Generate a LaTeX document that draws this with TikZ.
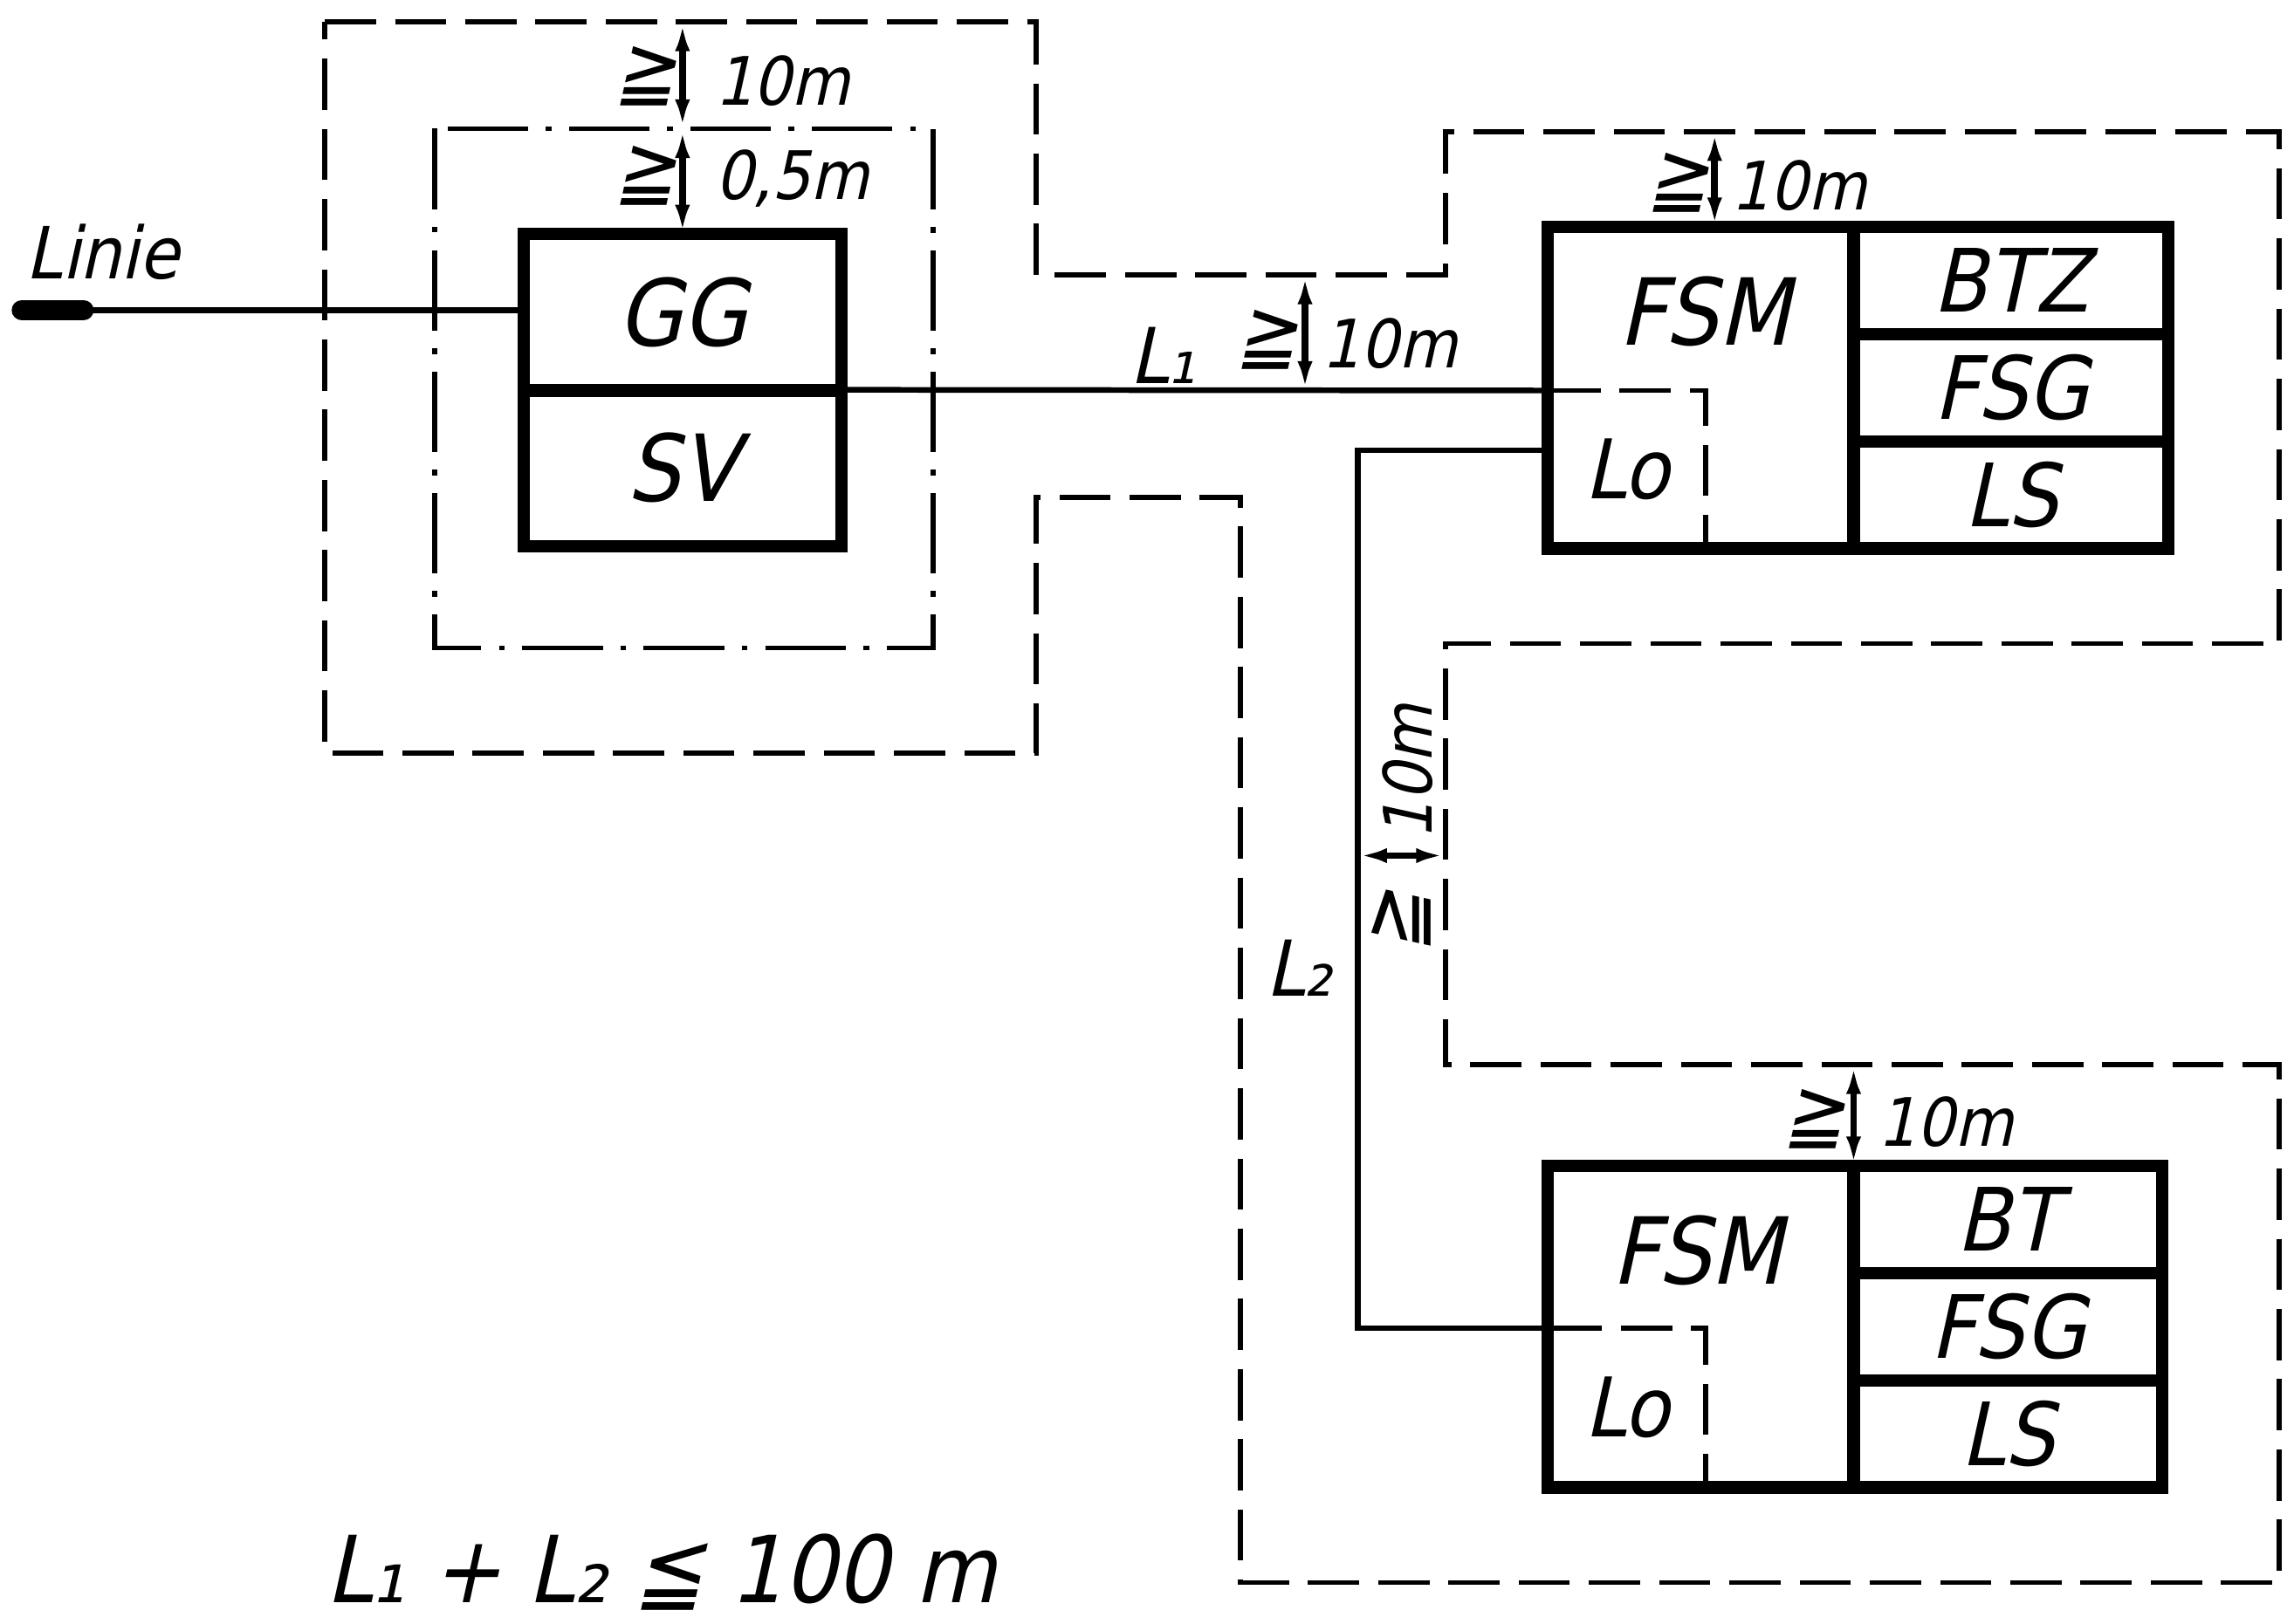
\documentclass[tikz,border=0pt]{standalone}
\usepackage{fontspec}
\usepackage{tikz}
\usetikzlibrary{arrows.meta,calc}
\newfontfamily\lett{DejaVu Sans Condensed}[FakeSlant=0.22]

\begin{document}
\begin{tikzpicture}[x=0.1mm,y=-0.1mm,
  dick/.style={draw,line width=2.4pt,inner sep=0pt,outer sep=0pt},
  zelle/.style={dick,minimum width=21.5mm,minimum height=7.33mm,font=\lett\fontsize{17}{17}\selectfont},
  strich/.style={dash pattern=on 3.5mm off 1.3mm,line width=1pt},
  strichpunkt/.style={dash pattern=on 5.5mm off 1.2mm on 0.4mm off 1.2mm,line width=1pt},
  mass/.style={line width=1.3pt,{Latex[length=2mm,width=1mm]}-{Latex[length=2mm,width=1mm]}},
  txt/.style={inner sep=0pt,font=\lett\fontsize{13}{13}\selectfont},
  zeich/.style={inner sep=0pt,font=\lett\fontsize{16}{16}\selectfont},
  gross/.style={inner sep=0pt,font=\lett\fontsize{18}{18}\selectfont}]
\useasboundingbox (0,0) rectangle (1568,1110);
% Schutzzone 10m
\draw[strich] (222,15) coordinate (o1) -- (708,15) -- (708,188) coordinate (o3) -- (988,188)
  -- (988,90) coordinate (o5) -- (1558,90) -- (1558,440) -- (988,440) -- (988,728) coordinate (o9)
  -- (1558,728) -- (1558,1082) -- (848,1082) -- (848,340) -- (708,340) -- (708,515) -- (222,515) -- cycle;
\draw[strichpunkt] (297,88) coordinate (i1) rectangle (638,443); % Zone 0,5m
% Geraete
\node[dick,gross,minimum width=21.7mm,minimum height=10.7mm] (gg) at (466.5,213.5) {GG};
\node[dick,gross,minimum width=21.7mm,minimum height=10.7mm] (sv) at (466.5,320) {SV};
\node[draw,strich,inner sep=0pt,outer sep=0pt,minimum width=10.8mm,minimum height=10.8mm,
  font=\lett\fontsize{16}{16}\selectfont] (loA) at (1112,321) {Lo};
\node[dick,minimum width=20.9mm,minimum height=22mm] (fsmA) at (1162.5,265) {};
\node[gross] (fsmAt) at (1165,213) {FSM};
\node[zelle] (btz) at (1374.5,191.7) {BTZ};
\node[zelle] (fsgA) at (1374.5,265) {FSG};
\node[zelle] (lsA) at (1374.5,338.3) {LS};
\node[draw,strich,inner sep=0pt,outer sep=0pt,minimum width=10.8mm,minimum height=10.9mm,
  font=\lett\fontsize{16}{16}\selectfont] (loB) at (1112,962.5) {Lo};
\node[dick,minimum width=20.9mm,minimum height=22mm] (fsmB) at (1162.5,907) {};
\node[gross] (fsmBt) at (1160,855) {FSM};
\node[zelle,minimum width=21.1mm] (bt) at (1372.5,833.7) {BT};
\node[zelle,minimum width=21.1mm] (fsgB) at (1372.5,907) {FSG};
\node[zelle,minimum width=21.1mm] (lsB) at (1372.5,980.3) {LS};
% Leitungen
\coordinate (lin) at (15,212);
\draw[line width=4pt,line cap=round] (lin) -- ++(42,0);
\draw[line width=1.1pt] (lin) -- (gg.west |- lin);
\node[txt,font=\lett\fontsize{14}{14}\selectfont] (linie) at (70,172) {Linie};
\draw[line width=1.1pt] (sv.north east) -- (loA.north west); % L1
\coordinate (pA) at (1058,308);
\draw[line width=1.1pt] (pA) -- (928,308) coordinate (kn) |- (loB.north west); % L2
% Abstaende
\draw[mass] (o1 -| gg.north) -- (i1 -| gg.north);
\draw[mass] (i1 -| gg.north) -- (gg.north);
\coordinate (d1) at (892,267);
\draw[mass] (d1) -- (d1 |- o3);
\coordinate (d3) at (1172,155);
\draw[mass] (d3) -- (d3 |- o5);
\draw[mass] (fsmB.north east) -- (fsmB.north east |- o9);
\coordinate (d2) at (928,585);
\draw[mass] (d2) -- (d2 -| o9);
% Beschriftung
\node[zeich] (g1) at (441,52) {≧};
\node[txt,anchor=west] (m1) at (488,55) {10m};
\node[zeich] (g2) at (441,120) {≧};
\node[txt,anchor=west] (m2) at (488,122) {0,5m};
\node[txt,font=\lett\fontsize{15}{15}\selectfont] (l1) at (795,243) {L₁};
\node[zeich] (g3) at (866,232) {≧};
\node[txt,anchor=west] (m3) at (903,235) {10m};
\node[zeich] (g4) at (1147,125) {≧};
\node[txt,anchor=west] (m4) at (1183,127) {10m};
\node[zeich] (g5) at (1240,765) {≧};
\node[txt,anchor=west] (m5) at (1283,767) {10m};
\node[txt,rotate=90] (m6) at (962,528) {10m};
\node[zeich,rotate=90] (g6) at (958,630) {≧};
\node[txt,font=\lett\fontsize{15}{15}\selectfont] (l2) at (888,662) {L₂};
\node[gross] (summe) at (452,1075) {L₁ + L₂ ≦ 100 m};
\end{tikzpicture}
\end{document}
